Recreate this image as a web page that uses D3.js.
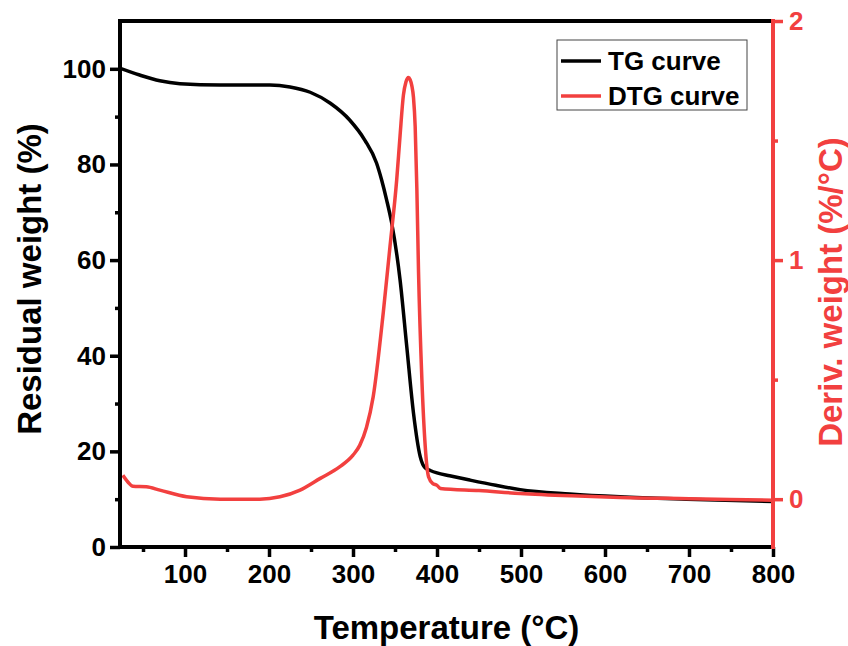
<!DOCTYPE html>
<html lang="en">
  <head>
    <meta charset="UTF-8"/>
    <title>TG / DTG</title>
    <script src="https://d3js.org/d3.v7.min.js"></script>
    <style>
      body { margin: 0; background: #fff; }
      text { font-family: 'Liberation Sans', Arial, sans-serif; font-weight: bold; }
      .tick text { font-size: 26px; }
      .axis-label { font-size: 33px; }
      .legend text { font-size: 26px; }
    </style>
  </head>
  <body>
    <script type="text/javascript">

      const red = "#f2403f"

      // TG curve: temperature (°C) and residual weight (%)
      const tgTemp   = [23, 46, 70, 94, 142, 201, 225, 249, 273, 296, 314, 328, 334, 340, 346, 356, 364, 372, 380, 386, 392, 400, 415, 439, 470, 499, 558, 618, 697, 800]
      const tgWeight = [100.1, 98.7, 97.5, 96.9, 96.6, 96.6, 96.2, 95.1, 92.8, 89.3, 85.1, 80.3, 76.8, 72.6, 67.8, 55.9, 41.9, 28.0, 18.9, 16.5, 16.0, 15.5, 14.9, 14.0, 12.9, 12.0, 11.1, 10.5, 10.0, 9.5]

      // DTG curve: temperature (°C) and derivative weight (%/°C)
      const dtgTemp  = [26, 32, 38, 54, 70, 102, 142, 189, 213, 237, 261, 284, 300, 308, 316, 324, 336, 344, 352, 356, 360, 363, 366, 368, 370, 372, 374, 376, 378, 382, 386, 390, 395, 400, 404, 450, 499, 560, 618, 700, 800]
      const dtgValue = [0.10, 0.072, 0.054, 0.052, 0.038, 0.010, 0.0, 0.0, 0.01, 0.038, 0.087, 0.135, 0.184, 0.225, 0.30, 0.428, 0.78, 1.056, 1.335, 1.52, 1.69, 1.745, 1.764, 1.755, 1.73, 1.68, 1.56, 1.30, 0.95, 0.50, 0.22, 0.093, 0.065, 0.058, 0.045, 0.036, 0.024, 0.014, 0.007, 0.002, -0.004]

      const xTicks = [100, 200, 300, 400, 500, 600, 700, 800]
      const xMinor = [50, 150, 250, 350, 450, 550, 650, 750]
      const yTicks = [0, 20, 40, 60, 80, 100]
      const yMinor = [10, 30, 50, 70, 90]
      const y2Ticks = [0, 1, 2]
      const y2Minor = [0.5, 1.5]

      const legendItems = ["TG curve", "DTG curve"]

      const outerWidth = 848,
            outerHeight = 646,
            margin = ({top: 21, right: 75, bottom: 99, left: 120}),
            width = outerWidth - margin.left - margin.right,
            height = outerHeight - margin.top - margin.bottom

      const svg = d3.select("body").append("svg")
          .attr("width", outerWidth)
          .attr("height", outerHeight)

      const g = svg.append("g")
          .attr("transform", `translate(${margin.left},${margin.top})`)

      const xScale = d3.scaleLinear().domain([22.6, 800]).range([0, width])
      const yScale = d3.scaleLinear().domain([0, 110]).range([height, 0])
      const y2Scale = d3.scaleLinear().domain([-0.2, 2]).range([height, 0])

      const tg = tgTemp.map((t, i) => [t, tgWeight[i]])
      const dtg = dtgTemp.map((t, i) => [t, dtgValue[i]])

      g.append("clipPath").attr("id", "clip")
        .append("rect").attr("width", width).attr("height", height)

      g.append("path")
          .datum(tg)
          .attr("clip-path", "url(#clip)")
          .attr("fill", "none")
          .attr("stroke", "#000")
          .attr("stroke-width", 3.5)
          .attr("d", d3.line().curve(d3.curveMonotoneX)
            .x(d => xScale(d[0])).y(d => yScale(d[1])))

      g.append("path")
          .datum(dtg)
          .attr("clip-path", "url(#clip)")
          .attr("fill", "none")
          .attr("stroke", red)
          .attr("stroke-width", 3.5)
          .attr("d", d3.line().curve(d3.curveMonotoneX)
            .x(d => xScale(d[0])).y(d => y2Scale(d[1])))

      const styleAxis = (sel, color) => {
        sel.select(".domain").remove()
        sel.selectAll(".tick line").attr("stroke", color).attr("stroke-width", 3.5)
        sel.selectAll(".tick text").attr("fill", color)
      }

      // minor ticks first
      g.append("g")
          .attr("transform", `translate(0,${height})`)
          .call(d3.axisBottom(xScale).tickValues(xMinor).tickSize(5).tickFormat(""))
          .call(s => styleAxis(s, "#000"))
      g.append("g")
          .call(d3.axisLeft(yScale).tickValues(yMinor).tickSize(5).tickFormat(""))
          .call(s => styleAxis(s, "#000"))
      g.append("g")
          .attr("transform", `translate(${width},0)`)
          .call(d3.axisRight(y2Scale).tickValues(y2Minor).tickSize(5).tickFormat(""))
          .call(s => styleAxis(s, red))

      // major ticks
      g.append("g")
          .attr("transform", `translate(0,${height})`)
          .call(d3.axisBottom(xScale).tickValues(xTicks).tickSize(10).tickPadding(8))
          .call(s => styleAxis(s, "#000"))
      g.append("g")
          .call(d3.axisLeft(yScale).tickValues(yTicks).tickSize(10).tickPadding(4))
          .call(s => styleAxis(s, "#000"))
      g.append("g")
          .attr("transform", `translate(${width},0)`)
          .call(d3.axisRight(y2Scale).tickValues(y2Ticks).tickSize(10).tickPadding(6).tickFormat(d3.format("d")))
          .call(s => styleAxis(s, red))

      // frame
      const frame = g.append("g").attr("stroke-width", 4).attr("stroke-linecap", "square")
      frame.append("line").attr("x1", 0).attr("x2", width).attr("y1", 0).attr("y2", 0).attr("stroke", "#000")
      frame.append("line").attr("x1", 0).attr("x2", width).attr("y1", height).attr("y2", height).attr("stroke", "#000")
      frame.append("line").attr("x1", 0).attr("x2", 0).attr("y1", 0).attr("y2", height).attr("stroke", "#000")
      frame.append("line").attr("x1", width).attr("x2", width).attr("y1", 0).attr("y2", height).attr("stroke", red)

      // axis titles
      g.append("text")
          .attr("class", "axis-label")
          .attr("x", width / 2)
          .attr("y", height + 92)
          .attr("text-anchor", "middle")
          .text("Temperature (°C)")

      g.append("text")
          .attr("class", "axis-label")
          .attr("transform", `translate(-79,${height / 2 - 5}) rotate(-90)`)
          .attr("text-anchor", "middle")
          .text("Residual weight (%)")

      g.append("text")
          .attr("class", "axis-label")
          .attr("fill", red)
          .attr("transform", `translate(${width + 69},${height / 2 + 8}) rotate(-90)`)
          .attr("text-anchor", "middle")
          .text("Deriv. weight (%/°C)")

      // legend
      const legend = g.append("g").attr("class", "legend")
          .attr("transform", `translate(${557 - margin.left},${40 - margin.top})`)
      legend.append("rect")
          .attr("width", 190).attr("height", 70)
          .attr("fill", "#fff").attr("stroke", "#444").attr("stroke-width", 1)
      legendItems.forEach((name, i) => {
        const yy = 21 + i * 35
        legend.append("line")
            .attr("x1", 4).attr("x2", 44).attr("y1", yy).attr("y2", yy)
            .attr("stroke", i === 0 ? "#000" : red).attr("stroke-width", 3.5)
        legend.append("text")
            .attr("x", 51).attr("y", yy + 9)
            .text(name)
      })

    </script>
  </body>
</html>
